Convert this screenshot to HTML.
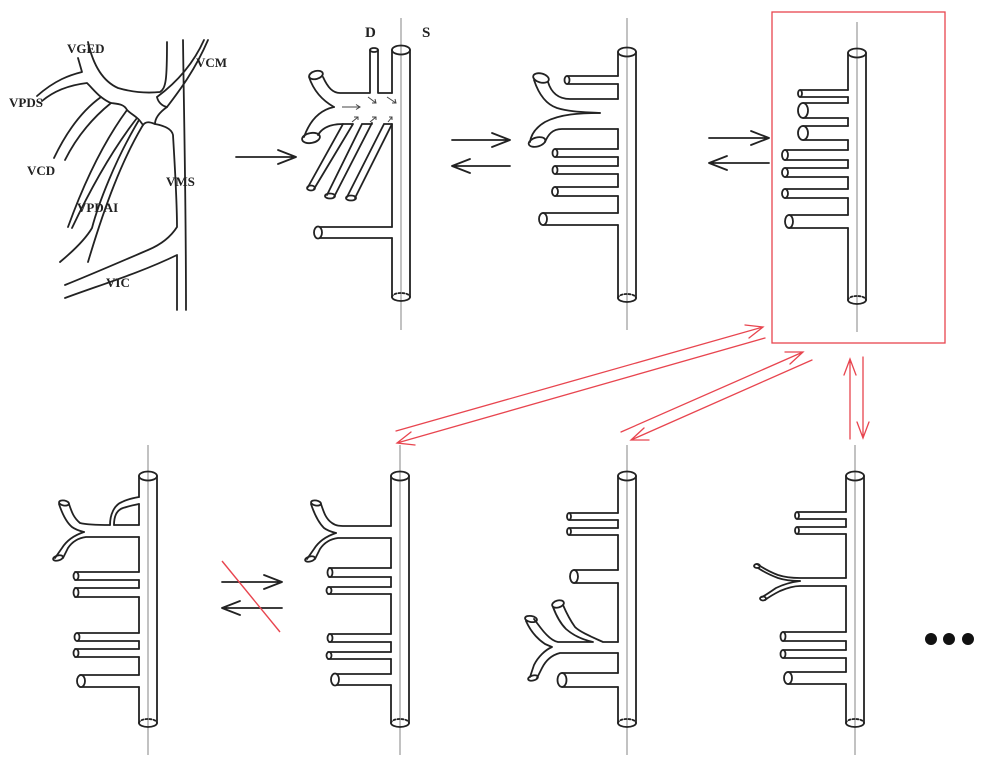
<!DOCTYPE html>
<html><head><meta charset="utf-8"><style>
html,body{margin:0;padding:0;background:#fff;}
svg{display:block;}
text{font-family:"Liberation Serif",serif;font-weight:bold;font-size:13px;fill:#222;}
</style></head><body>
<svg width="1003" height="768" viewBox="0 0 1003 768" xmlns="http://www.w3.org/2000/svg">
<g fill="none" stroke="#222" stroke-width="1.8" stroke-linecap="round" stroke-linejoin="round">

<path d="M183 40 C184 120 186 200 186 310"/>
<path d="M78 58 L82 72 C70 75 55 80 37 96"/>
<path d="M42 101 C55 90 70 85 87 83 C92 88 96 93 101 97"/>
<path d="M88 42 C92 60 100 80 118 88 C135 93 150 93 160 92 C166 88 167 80 167 42"/>
<path d="M204 40 C195 60 180 80 157 97"/>
<path d="M208 40 C195 70 180 90 167 107"/>
<path d="M157 97 C158 102 162 106 167 107"/>
<path d="M101 97 C80 112 65 135 54 158"/>
<path d="M111 103 C90 120 75 140 65 160"/>
<path d="M101 97 C105 100 108 102 111 103 C118 104 124 104 127 110"/>
<path d="M127 110 C105 140 85 180 68 227"/>
<path d="M137 118 C112 150 90 190 72 228"/>
<path d="M127 110 C130 113 135 116 137 118 C139 119 140 121 143 125"/>
<path d="M143 125 C122 160 105 205 88 262"/>
<path d="M139 120 C115 160 98 205 92 228 C85 240 72 252 60 262"/>
<path d="M143 125 C146 121 150 122 155 124 C166 126 172 130 173 135 C175 170 177 200 177 227 C170 238 160 245 148 250 C120 262 90 275 65 285"/>
<path d="M65 298 C100 285 140 273 177 255 L177 310"/>
<path d="M167 107 C160 112 155 118 155 124"/>
</g>
<text x="67" y="53">VGED</text>
<text x="196" y="67">VCM</text>
<text x="9" y="107">VPDS</text>
<text x="27" y="175">VCD</text>
<text x="166" y="186">VMS</text>
<text x="77" y="212">VPDAI</text>
<text x="106" y="287">VIC</text>
<text x="365" y="37" style="font-size:15px">D</text>
<text x="422" y="37" style="font-size:15px">S</text>

<g fill="none" stroke="#222" stroke-width="1.8" stroke-linecap="round" stroke-linejoin="round">
<path d="M236 157 H296 M278 150 L296 157 L278 164"/>
<path d="M452 140 H510 M492 133 L510 140 L492 147"/>
<path d="M452 166 H510 M470 159 L452 166 L470 173"/>
<path d="M709 138 H769 M751 131 L769 138 L751 145"/>
<path d="M709 163 H769 M727 156 L709 163 L727 170"/>
<path d="M222 582 H282 M264 575 L282 582 L264 589"/>
<path d="M222 608 H282 M240 601 L222 608 L240 615"/>
</g>
<line x1="222" y1="561" x2="280" y2="632" stroke="#e8454f" stroke-width="1.4"/>

<g stroke="#999" stroke-width="1.2">
<line x1="401" y1="18" x2="401" y2="330"/>
<line x1="627" y1="18" x2="627" y2="330"/>
<line x1="857" y1="22" x2="857" y2="332"/>
<line x1="148" y1="445" x2="148" y2="755"/>
<line x1="400" y1="445" x2="400" y2="755"/>
<line x1="627" y1="445" x2="627" y2="755"/>
<line x1="855" y1="445" x2="855" y2="755"/>
</g>

<g fill="none" stroke="#222" stroke-width="1.8" stroke-linecap="round" stroke-linejoin="round">
<path d="M410 50 V297"/>
<path d="M392 50 V93 M392 124 V227 M392 238 V297"/>
<ellipse cx="401" cy="50" rx="9" ry="4.5"/>
<path d="M392 297 A9 4 0 0 0 410 297"/>
<path d="M392 297 A9 4 0 0 1 410 297" stroke-dasharray="2 2"/>
<path d="M370 50 V93 H340 C333 93 328 88 323 77"/>
<path d="M378 50 V93 H392"/>
<ellipse cx="374" cy="50" rx="4" ry="2"/>
<ellipse cx="316" cy="75" rx="7" ry="4" transform="rotate(-15 316 75)"/>
<path d="M309 77 C312 86 318 98 334 107"/>
<path d="M334 107 C320 110 310 120 304 137"/>
<path d="M318 135 C322 128 330 124 343 124"/>
<ellipse cx="311" cy="138" rx="9" ry="5" transform="rotate(-10 311 138)"/>
<path d="M343 124 L308 187 M353 124 L314 189 M343 124 H353"/>
<ellipse cx="311" cy="188" rx="4" ry="2.5"/>
<path d="M362 124 L327 195 M372 123 L334 197 M362 124 H372"/>
<ellipse cx="330" cy="196" rx="5" ry="2.5"/>
<path d="M384 124 L347 197 M392 124 L355 198 M384 124 H392"/>
<ellipse cx="351" cy="198" rx="5" ry="2.5"/>
<path d="M318 227 H392 M318 238 H392"/>
<ellipse cx="318" cy="232.5" rx="4" ry="6" fill="#fff"/>
</g>
<g fill="none" stroke="#444" stroke-width="1">
<path d="M342 107 H360 M356 104.5 L360 107 L356 109.5"/>
<path d="M368 97 L376 103 M372 103 L376 103 L375 99"/>
<path d="M387 97 L396 103 M392 103 L396 103 L395 99"/>
<path d="M352 122 L358 117 M354 117 L358 117 L358 120"/>
<path d="M370 122 L376 117 M372 117 L376 117 L376 120"/>
<path d="M388 122 L392 117 M389 117 L392 117 L392 120"/>
</g>

<g fill="none" stroke="#222" stroke-width="1.8" stroke-linecap="round" stroke-linejoin="round">
<path d="M636 52 V298"/>
<path d="M618 52 V76 M618 84 V99 M618 129 V149 M618 157 V166 M618 174 V187 M618 196 V213 M618 225 V298"/>
<ellipse cx="627" cy="52" rx="9" ry="4.5"/>
<path d="M618 298 A9 4 0 0 0 636 298"/>
<path d="M618 298 A9 4 0 0 1 636 298" stroke-dasharray="2 2"/>
<path d="M567 76 H618 M567 84 H618"/><ellipse cx="567" cy="80" rx="2.5" ry="4" fill="#fff"/>
<ellipse cx="541" cy="78" rx="8" ry="4.5" transform="rotate(15 541 78)"/>
<path d="M534 80 C538 92 545 104 557 108 C570 112 585 112 600 113"/>
<path d="M548 82 C551 92 558 99 570 99 H618"/>
<path d="M600 113 C580 113 560 114 545 122 C535 128 531 135 530 142"/>
<path d="M545 142 C548 135 552 129 562 129 H618"/>
<ellipse cx="537" cy="142" rx="8.5" ry="4.5" transform="rotate(-15 537 142)"/>
<path d="M555 149 H618 M555 157 H618"/><ellipse cx="555" cy="153" rx="2.5" ry="4" fill="#fff"/>
<path d="M555 166 H618 M555 174 H618"/><ellipse cx="555" cy="170" rx="2.5" ry="4" fill="#fff"/>
<path d="M555 187 H618 M555 196 H618"/><ellipse cx="555" cy="191.5" rx="3" ry="4.5" fill="#fff"/>
<path d="M543 213 H618 M543 225 H618"/><ellipse cx="543" cy="219" rx="4" ry="6" fill="#fff"/>

<path d="M866 53 V300"/>
<path d="M848 53 V90 M848 97 V103 M848 118 V126 M848 140 V150 M848 160 V168 M848 177 V189 M848 198 V215 M848 228 V300"/>
<ellipse cx="857" cy="53" rx="9" ry="4.5"/>
<path d="M848 300 A9 4 0 0 0 866 300"/>
<path d="M848 300 A9 4 0 0 1 866 300" stroke-dasharray="2 2"/>
<path d="M800 90 H848 M800 97 H848"/><ellipse cx="800" cy="93.5" rx="2" ry="3.5" fill="#fff"/>
<path d="M803 103 H848 M803 118 H848"/><ellipse cx="803" cy="110.5" rx="5" ry="7.5" fill="#fff"/>
<path d="M803 126 H848 M803 140 H848"/><ellipse cx="803" cy="133" rx="5" ry="7" fill="#fff"/>
<path d="M785 150 H848 M785 160 H848"/><ellipse cx="785" cy="155" rx="3" ry="5" fill="#fff"/>
<path d="M785 168 H848 M785 177 H848"/><ellipse cx="785" cy="172.5" rx="3" ry="4.5" fill="#fff"/>
<path d="M785 189 H848 M785 198 H848"/><ellipse cx="785" cy="193.5" rx="3" ry="4.5" fill="#fff"/>
<path d="M789 215 H848 M789 228 H848"/><ellipse cx="789" cy="221.5" rx="4" ry="6.5" fill="#fff"/>

<path d="M157 476 V723"/>
<path d="M139 476 V497 M139 504 V525 M139 537 V572 M139 580 V588 M139 597 V633 M139 641 V649 M139 657 V675 M139 687 V723"/>
<ellipse cx="148" cy="476" rx="9" ry="4.5"/>
<path d="M139 723 A9 4 0 0 0 157 723"/>
<path d="M139 723 A9 4 0 0 1 157 723" stroke-dasharray="2 2"/>
<ellipse cx="64" cy="503" rx="5" ry="2.5" transform="rotate(10 64 503)"/>
<path d="M59 504 C62 513 66 522 72 527 C76 530 80 531 84 532"/>
<path d="M69 504 C72 513 74 518 80 523 C88 525 100 525 110 525"/>
<path d="M110 525 C110 515 114 505 122 502 C128 499 133 498 139 497"/>
<path d="M114 525 C114 516 117 510 123 508 C129 506 134 505 139 504"/>
<path d="M114 525 H139"/>
<path d="M84 532 C75 535 67 540 62 548 L55 558"/>
<path d="M86 537 H139 M86 537 C78 538 72 542 68 548 L63 558"/>
<ellipse cx="58" cy="558" rx="5" ry="2.5" transform="rotate(-15 58 558)"/>
<path d="M75 572 H139 M75 580 H139"/><ellipse cx="76" cy="576" rx="2.5" ry="4" fill="#fff"/>
<path d="M75 588 H139 M75 597 H139"/><ellipse cx="76" cy="592.5" rx="2.5" ry="4.5" fill="#fff"/>
<path d="M77 633 H139 M77 641 H139"/><ellipse cx="77" cy="637" rx="2.5" ry="4" fill="#fff"/>
<path d="M75 649 H139 M75 657 H139"/><ellipse cx="76" cy="653" rx="2.5" ry="4" fill="#fff"/>
<path d="M80 675 H139 M80 687 H139"/><ellipse cx="81" cy="681" rx="4" ry="6" fill="#fff"/>

<path d="M409 476 V723"/>
<path d="M391 476 V526 M391 538 V568 M391 577 V587 M391 594 V634 M391 642 V652 M391 659 V674 M391 685 V723"/>
<ellipse cx="400" cy="476" rx="9" ry="4.5"/>
<path d="M391 723 A9 4 0 0 0 409 723"/>
<path d="M391 723 A9 4 0 0 1 409 723" stroke-dasharray="2 2"/>
<ellipse cx="316" cy="503" rx="5" ry="2.5" transform="rotate(10 316 503)"/>
<path d="M311 504 C314 513 318 522 324 528 C328 531 332 532 336 533"/>
<path d="M321 504 C324 513 326 519 332 523 C336 526 340 526 345 526 H391"/>
<path d="M336 533 C327 536 319 541 314 549 L307 559"/>
<path d="M338 538 H391 M338 538 C330 539 324 543 320 549 L315 559"/>
<ellipse cx="310" cy="559" rx="5" ry="2.5" transform="rotate(-15 310 559)"/>
<path d="M329 568 H391 M329 577 H391"/><ellipse cx="330" cy="572.5" rx="2.5" ry="4.5" fill="#fff"/>
<path d="M328 587 H391 M328 594 H391"/><ellipse cx="329" cy="590.5" rx="2.5" ry="3.5" fill="#fff"/>
<path d="M329 634 H391 M329 642 H391"/><ellipse cx="330" cy="638" rx="2.5" ry="4" fill="#fff"/>
<path d="M328 652 H391 M328 659 H391"/><ellipse cx="329" cy="655.5" rx="2.5" ry="3.5" fill="#fff"/>
<path d="M334 674 H391 M334 685 H391"/><ellipse cx="335" cy="679.5" rx="4" ry="6" fill="#fff"/>

<path d="M636 476 V723"/>
<path d="M618 476 V513 M618 520 V528 M618 535 V570 M618 583 V642 M618 653 V673 M618 687 V723"/>
<ellipse cx="627" cy="476" rx="9" ry="4.5"/>
<path d="M618 723 A9 4 0 0 0 636 723"/>
<path d="M618 723 A9 4 0 0 1 636 723" stroke-dasharray="2 2"/>
<path d="M569 513 H618 M569 520 H618"/><ellipse cx="569" cy="516.5" rx="2" ry="3.5" fill="#fff"/>
<path d="M569 528 H618 M569 535 H618"/><ellipse cx="569" cy="531.5" rx="2" ry="3.5" fill="#fff"/>
<path d="M574 570 H618 M574 583 H618"/><ellipse cx="574" cy="576.5" rx="4" ry="6.5" fill="#fff"/>
<path d="M618 642 H603 C592 637 580 632 575 627 C570 620 566 612 563 605"/>
<ellipse cx="558" cy="604" rx="6" ry="3.5" transform="rotate(-15 558 604)"/>
<path d="M553 607 C556 615 560 623 566 629 C574 636 584 640 593 642 H558 C552 641 546 635 540 627 L534 619"/>
<ellipse cx="531" cy="619" rx="6" ry="3" transform="rotate(10 531 619)"/>
<path d="M526 621 C530 630 536 638 545 644 L552 647 C545 650 538 657 534 665 L530 677"/>
<path d="M618 653 H560 C552 655 546 660 542 668 L537 678"/>
<ellipse cx="533" cy="678" rx="5" ry="2.5" transform="rotate(-15 533 678)"/>
<path d="M562 673 H618 M562 687 H618"/><ellipse cx="562" cy="680" rx="4.5" ry="7" fill="#fff"/>

<path d="M864 476 V723"/>
<path d="M846 476 V512 M846 519 V527 M846 534 V578 M846 586 V632 M846 641 V650 M846 658 V672 M846 684 V723"/>
<ellipse cx="855" cy="476" rx="9" ry="4.5"/>
<path d="M846 723 A9 4 0 0 0 864 723"/>
<path d="M846 723 A9 4 0 0 1 864 723" stroke-dasharray="2 2"/>
<path d="M797 512 H846 M797 519 H846"/><ellipse cx="797" cy="515.5" rx="2" ry="3.5" fill="#fff"/>
<path d="M797 527 H846 M797 534 H846"/><ellipse cx="797" cy="530.5" rx="2" ry="3.5" fill="#fff"/>
<path d="M846 578 H800 C792 578 784 577 778 575 C770 572 763 568 757 564"/>
<path d="M800 581 C792 581 784 580 778 578 C770 575 764 572 758 568"/>
<ellipse cx="757" cy="566" rx="3" ry="2"/>
<path d="M800 581 C792 582 784 584 776 588 C770 592 766 595 762 597"/>
<path d="M846 586 H800 C794 586 787 588 780 591 C774 594 769 597 765 600"/>
<ellipse cx="763" cy="598.5" rx="3" ry="2"/>
<path d="M783 632 H846 M783 641 H846"/><ellipse cx="783" cy="636.5" rx="2.5" ry="4.5" fill="#fff"/>
<path d="M783 650 H846 M783 658 H846"/><ellipse cx="783" cy="654" rx="2.5" ry="4" fill="#fff"/>
<path d="M788 672 H846 M788 684 H846"/><ellipse cx="788" cy="678" rx="4" ry="6" fill="#fff"/>
</g>

<circle cx="931" cy="639" r="6" fill="#111"/>
<circle cx="949" cy="639" r="6" fill="#111"/>
<circle cx="968" cy="639" r="6" fill="#111"/>

<g fill="none" stroke="#e8454f" stroke-width="1.3" stroke-linecap="round">
<rect x="772" y="12" width="173" height="331"/>
<path d="M396 431 L763 327 M745 325 L763 327 L749 338"/>
<path d="M765 338 L397 443 M415 445 L397 443 L411 432"/>
<path d="M621 432 L803 352 M785 352 L803 352 L790 364"/>
<path d="M812 360 L631 440 M649 440 L631 440 L644 428"/>
<path d="M850 439 L850 359 M844 375 L850 359 L856 375"/>
<path d="M863 357 L863 438 M857 422 L863 438 L869 422"/>
</g>
</svg>
</body></html>
